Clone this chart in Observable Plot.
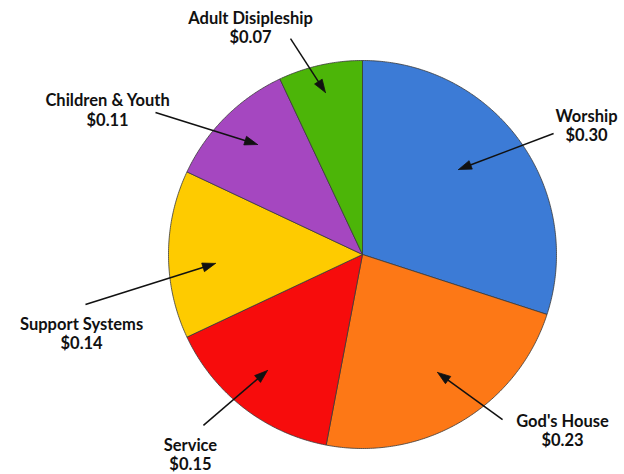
<!DOCTYPE html>
<html>
<head>
<meta charset="utf-8">
<script src="https://cdn.jsdelivr.net/npm/d3@7"></script>
<script src="https://cdn.jsdelivr.net/npm/@observablehq/plot@0.6"></script>
<style>
  html, body { margin: 0; padding: 0; background: #fff; }
</style>
</head>
<body>
<div id="chart"></div>
<script>
// Data
const categories = ["Worship", "God's House", "Service", "Support Systems", "Children & Youth", "Adult Disipleship"];
const values = [0.30, 0.23, 0.15, 0.14, 0.11, 0.07];
const valueLabels = ["$0.30", "$0.23", "$0.15", "$0.14", "$0.11", "$0.07"];
const colors = ["#3c7bd6", "#fd7816", "#f70c0c", "#fecb00", "#a547c0", "#4cb508"];
// Annotation positions in pie-radius units (centre = 0,0)
const labelX = [1.155, 1.031, -0.887, -1.448, -1.314, -0.577];
const labelY = [0.665, -0.907, -1.030, -0.407, 0.747, 1.170];
const arrowFromX = [0.985, 0.722, -0.820, -1.428, -1.067, -0.371];
const arrowFromY = [0.624, -0.851, -0.881, -0.258, 0.732, 1.113];
const arrowToX = [0.495, 0.387, -0.490, -0.758, -0.541, -0.191];
const arrowToY = [0.438, -0.608, -0.598, -0.046, 0.567, 0.835];

// Slice polygons built from the values
const arcs = d3.pie().sort(null).startAngle(0).endAngle(2 * Math.PI)(values);
const slices = [];
arcs.forEach((a, i) => {
  const name = categories[i];
  slices.push({name, x: 0, y: 0});
  const n = Math.max(8, Math.ceil((a.endAngle - a.startAngle) / 0.01));
  for (let k = 0; k <= n; k++) {
    const t = a.startAngle + (a.endAngle - a.startAngle) * k / n;
    slices.push({name, x: Math.sin(t), y: Math.cos(t)});
  }
  slices.push({name, x: 0, y: 0});
});

const R = 194; // px per unit, used only for arrowhead proportions
const headLen = 13 / R, headHalf = 4.5 / R;
const shafts = [], heads = [];
categories.forEach((c, i) => {
  const dx = arrowToX[i] - arrowFromX[i], dy = arrowToY[i] - arrowFromY[i];
  const len = Math.hypot(dx, dy);
  const ux = dx / len, uy = dy / len;
  const bx = arrowToX[i] - ux * headLen, by = arrowToY[i] - uy * headLen;
  shafts.push({x1: arrowFromX[i], y1: arrowFromY[i], x2: bx + ux * headLen * 0.3, y2: by + uy * headLen * 0.3});
  heads.push({k: c, x: arrowToX[i], y: arrowToY[i]});
  heads.push({k: c, x: bx - uy * headHalf, y: by + ux * headHalf});
  heads.push({k: c, x: bx + uy * headHalf, y: by - ux * headHalf});
  heads.push({k: c, x: arrowToX[i], y: arrowToY[i]});
});

const labels = categories.map((c, i) => ({text: c + "\n" + valueLabels[i], x: labelX[i], y: labelY[i]}));

const chart = Plot.plot({
  width: 624,
  height: 474,
  margin: 0,
  x: {domain: [-1, 1], range: [168, 556], axis: null},
  y: {domain: [-1, 1], range: [448, 60], axis: null},
  color: {domain: categories, range: colors},
  style: {background: "#fff", overflow: "visible"},
  marks: [
    Plot.line(slices, {x: "x", y: "y", z: "name", fill: "name", stroke: "#3a3a3a", strokeWidth: 0.8, strokeLinejoin: "round"}),
    Plot.link(shafts, {x1: "x1", y1: "y1", x2: "x2", y2: "y2", stroke: "#111", strokeWidth: 1.5}),
    Plot.line(heads, {x: "x", y: "y", z: "k", fill: "#111", stroke: "#111", strokeWidth: 0.8, strokeLinejoin: "round"}),
    Plot.text(labels, {x: "x", y: "y", text: "text", fontFamily: "Lato", fontWeight: "bold", fontSize: 16.5, fill: "#111", textAnchor: "middle", lineAnchor: "middle", lineHeight: 1.18})
  ]
});
document.getElementById("chart").appendChild(chart);
</script>
</body>
</html>
